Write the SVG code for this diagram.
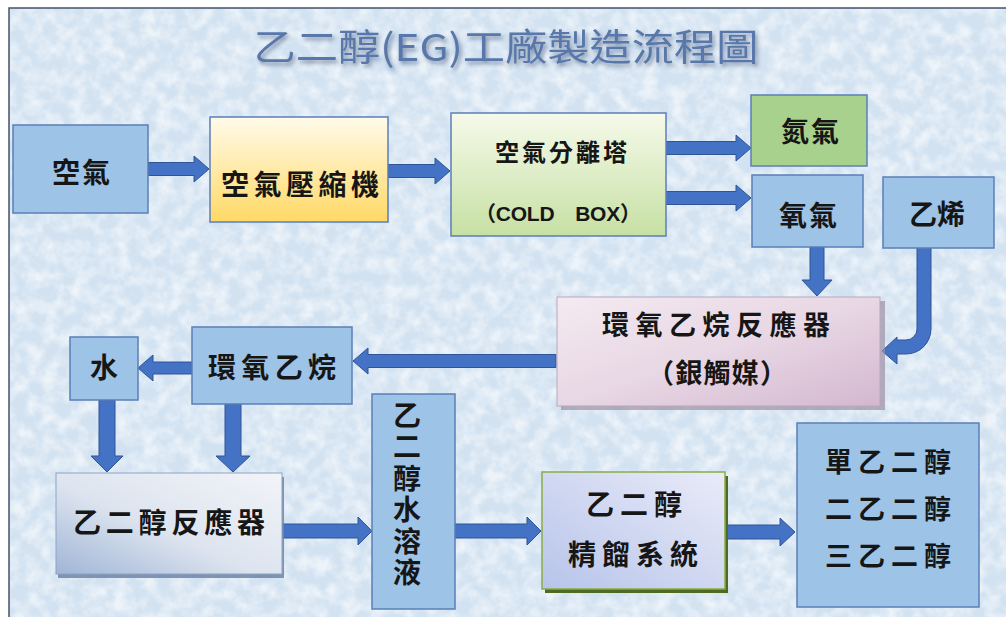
<svg xmlns="http://www.w3.org/2000/svg" width="1006" height="617" viewBox="0 0 1006 617">
<defs>
<style>
.t{font-family:"Noto Sans CJK TC","Noto Sans CJK SC",sans-serif;font-weight:700;fill:#161616;text-anchor:middle}
.lat{font-family:"Liberation Sans","Noto Sans CJK TC",sans-serif;font-weight:700;fill:#161616;text-anchor:middle}
.box{stroke:#5b7fb8;stroke-width:1.5}
.blue{fill:#9dc3e6}
.arr{fill:#4472c4;stroke:#2f5597;stroke-width:1}
</style>
<filter id="tex" x="0" y="0" width="100%" height="100%">
<feTurbulence type="fractalNoise" baseFrequency="0.07" numOctaves="3" seed="7"/>
<feColorMatrix type="matrix" values="0 0 0 0 1 0 0 0 0 1 0 0 0 0 1 2.2 0 0 0 -0.75"/>
</filter>
<filter id="tsh" x="-5%" y="-20%" width="110%" height="150%">
<feGaussianBlur in="SourceAlpha" stdDeviation="2"/>
<feOffset dx="2" dy="3" result="b"/>
<feFlood flood-color="#2c3f66" flood-opacity="0.55"/>
<feComposite in2="b" operator="in"/>
<feMerge><feMergeNode/><feMergeNode in="SourceGraphic"/></feMerge>
</filter>
<linearGradient id="gYel" x1="0" y1="0" x2="0" y2="1">
<stop offset="0" stop-color="#fffbea"/><stop offset="1" stop-color="#ffd966"/>
</linearGradient>
<linearGradient id="gGrn" x1="0" y1="0" x2="0" y2="1">
<stop offset="0" stop-color="#f6faea"/><stop offset="1" stop-color="#c6e0a4"/>
</linearGradient>
<linearGradient id="gLav" x1="0" y1="0" x2="1" y2="1">
<stop offset="0" stop-color="#f4eaf1"/><stop offset="0.5" stop-color="#e8d7e4"/><stop offset="1" stop-color="#d3b8d0"/>
</linearGradient>
<linearGradient id="gGry" x1="1" y1="0" x2="0" y2="1">
<stop offset="0" stop-color="#f2f4f8"/><stop offset="0.55" stop-color="#dde4ef"/><stop offset="1" stop-color="#9fb5d6"/>
</linearGradient>
<linearGradient id="gPur" x1="1" y1="0" x2="0" y2="1">
<stop offset="0" stop-color="#e9ebf8"/><stop offset="1" stop-color="#b7c4ea"/>
</linearGradient>
</defs>

<rect x="0" y="0" width="1006" height="617" fill="#ffffff"/>
<rect x="9" y="8" width="1005" height="615" fill="#d2e2f1" stroke="#44546a" stroke-width="1.5"/>
<rect x="10" y="9" width="996" height="608" filter="url(#tex)" opacity="0.6"/>

<g id="title" filter="url(#tsh)">
<text x="506" y="61" font-family="Noto Sans CJK TC, Noto Sans CJK SC, sans-serif" font-size="37" fill="#5878ab" text-anchor="middle" textLength="505" lengthAdjust="spacingAndGlyphs">乙二醇(EG)工廠製造流程圖</text>
</g>

<g id="connectors">
<path class="arr" d="M148,162.5 H194 V156 L209,169 L194,182 V175.5 H148 Z"/>
<path class="arr" d="M388,164.5 H435 V158 L450,171 L435,184 V177.5 H388 Z"/>
<path class="arr" d="M665,141.5 H736 V135 L751,148 L736,161 V154.5 H665 Z"/>
<path class="arr" d="M665,191.5 H736 V185 L751,198 L736,211 V204.5 H665 Z"/>
<path class="arr" d="M810,247 H824 V280 H832 L817,296 L802,280 H810 Z"/>
<path class="arr" d="M917,247 H931 V329 A25,25 0 0 1 906,354 H897 V364 L882,351 L897,337 V340 H906 A11,11 0 0 0 917,329 Z"/>
<path class="arr" d="M556,354.5 H368 V348 L353,361 L368,374 V367.5 H556 Z"/>
<path class="arr" d="M192,362 H153 V355 L138,368 L153,381 V374 H192 Z"/>
<path class="arr" d="M99,400 H115 V456 H123 L107,472 L91,456 H99 Z"/>
<path class="arr" d="M225,404 H241 V456 H250 L233,472 L216,456 H225 Z"/>
<path class="arr" d="M282,524 H358 V517 L372,531 L358,545 V538 H282 Z"/>
<path class="arr" d="M455,524 H527 V517 L541,531 L527,545 V538 H455 Z"/>
<path class="arr" d="M725,525 H780 V518 L795,532 L780,546 V539 H725 Z"/>
</g>

<g id="n_air">
<rect class="box blue" x="13" y="125" width="135" height="88"/>
<text class="t" x="81" y="183" font-size="28" textLength="58" lengthAdjust="spacing">空氣</text>
</g>

<g id="n_compressor">
<rect class="box" x="210" y="117" width="178" height="105" fill="url(#gYel)"/>
<text class="t" x="300" y="195" font-size="28" textLength="158" lengthAdjust="spacing">空氣壓縮機</text>
</g>

<g id="n_separator">
<rect class="box" x="451" y="113" width="215" height="123" fill="url(#gGrn)"/>
<text class="t" x="561" y="161" font-size="24" textLength="132" lengthAdjust="spacing">空氣分離塔</text>
<text class="lat" x="558" y="221" font-size="21" textLength="166" lengthAdjust="spacing">（COLD　BOX）</text>
</g>

<g id="n_nitrogen">
<rect class="box" x="751" y="95" width="116" height="71" fill="#a9d18e"/>
<text class="t" x="810" y="142" font-size="28" textLength="58" lengthAdjust="spacing">氮氣</text>
</g>

<g id="n_oxygen">
<rect class="box blue" x="752" y="175" width="111" height="72"/>
<text class="t" x="808" y="226" font-size="28" textLength="58" lengthAdjust="spacing">氧氣</text>
</g>

<g id="n_ethylene">
<rect class="box blue" x="883" y="177" width="111" height="71"/>
<text class="t" x="937" y="225" font-size="28" textLength="56" lengthAdjust="spacing">乙烯</text>
</g>

<g id="n_eo_reactor">
<rect x="561" y="301" width="324" height="109" fill="#9c90a4" opacity="0.7"/>
<rect x="557" y="297" width="323" height="109" fill="url(#gLav)" stroke="#b9a7bc" stroke-width="1"/>
<text class="t" x="716" y="335" font-size="27" textLength="228" lengthAdjust="spacing">環氧乙烷反應器</text>
<text class="t" x="717" y="383" font-size="27" textLength="140" lengthAdjust="spacing">（銀觸媒）</text>
</g>

<g id="n_water">
<rect class="box blue" x="70" y="337" width="68" height="63"/>
<text class="t" x="104" y="378" font-size="28">水</text>
</g>

<g id="n_eo">
<rect class="box blue" x="192" y="327" width="160" height="77"/>
<text class="t" x="272" y="378" font-size="28" textLength="128" lengthAdjust="spacing">環氧乙烷</text>
</g>

<g id="n_eg_reactor">
<rect x="58" y="477" width="226" height="101" fill="#6f84a6" opacity="0.85"/>
<rect x="56" y="473" width="226" height="101" fill="url(#gGry)" stroke="#8da3c4" stroke-width="1"/>
<text class="t" x="169" y="533" font-size="28" textLength="192" lengthAdjust="spacing">乙二醇反應器</text>
</g>

<g id="n_eg_solution">
<rect class="box blue" x="372" y="394" width="83" height="215"/>
<text font-family="Noto Sans CJK TC, Noto Sans CJK SC, sans-serif" font-weight="700" fill="#161616" font-size="28" x="407" y="401" writing-mode="vertical-rl" text-orientation="upright" letter-spacing="3.5">乙二醇水溶液</text>
</g>

<g id="n_distill">
<rect x="545" y="476" width="183" height="117" fill="#4f6b22"/>
<rect x="542" y="472" width="183" height="117" fill="url(#gPur)" stroke="#8aac44" stroke-width="1.5"/>
<text class="t" x="634" y="515" font-size="28" textLength="96" lengthAdjust="spacing">乙二醇</text>
<text class="t" x="633" y="565" font-size="28" textLength="130" lengthAdjust="spacing">精餾系統</text>
</g>

<g id="n_products">
<rect class="box blue" x="797" y="423" width="182" height="184"/>
<text class="t" x="888" y="472" font-size="27" textLength="126" lengthAdjust="spacing">單乙二醇</text>
<text class="t" x="888" y="519" font-size="27" textLength="126" lengthAdjust="spacing">二乙二醇</text>
<text class="t" x="888" y="566" font-size="27" textLength="126" lengthAdjust="spacing">三乙二醇</text>
</g>
</svg>
